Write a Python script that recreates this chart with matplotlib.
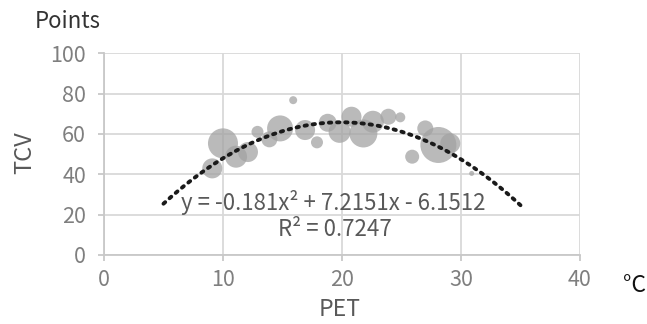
import numpy as np
import matplotlib
matplotlib.use('Agg')
import matplotlib.pyplot as plt

plt.rcParams['font.family'] = ['Noto Sans CJK SC', 'DejaVu Sans']

# PET (°C), TCV (points) and bubble weight
pet = [9.1, 10.0, 11.1, 12.1, 12.9, 13.9, 14.8, 15.9, 16.9, 17.9, 18.8,
       19.8, 20.8, 21.8, 22.6, 23.9, 24.9, 25.9, 27.0, 28.1, 29.1, 30.9]
tcv = [42.9, 55.3, 48.7, 51.0, 61.0, 57.3, 62.7, 76.7, 61.9, 55.8, 65.5,
       61.0, 68.5, 60.2, 66.0, 68.5, 68.2, 48.7, 62.7, 54.5, 55.3, 40.4]
weight = [10, 15, 11, 10, 6, 8, 13, 4, 10, 6, 9,
          11, 10, 14, 11, 8, 5, 7, 8, 18, 10, 2.5]

# trendline shown on the chart
coef = [-0.181, 7.2151, -6.1512]
eq_text = 'y = -0.181x² + 7.2151x - 6.1512'
r2_text = 'R² = 0.7247'

x_ticks = [0, 10, 20, 30, 40]
y_ticks = [0, 20, 40, 60, 80, 100]

fig = plt.figure(figsize=(6.47, 3.24), dpi=100)
ax = fig.add_axes([0.1607, 0.213, 0.7357, 0.623])

px = 0.72  # points per pixel
sizes = [(2 * w * px) ** 2 for w in weight]
ax.scatter(pet, tcv, s=sizes, color='#a3a3a3', alpha=0.75, linewidths=0, zorder=3)

xs = np.linspace(5, 35, 200)
ax.plot(xs, np.polyval(coef, xs), color='#1a1a1a', linestyle=(0, (0.6, 1.5)),
        linewidth=2.8, dash_capstyle='round', zorder=4)

ax.text(19.3, 26.0, eq_text, ha='center', va='center', fontsize=16, color='#595959', zorder=5)
ax.text(19.4, 12.4, r2_text, ha='center', va='center', fontsize=16, color='#595959', zorder=5)

ax.set_xlim(0, 40)
ax.set_ylim(0, 100)
ax.set_xticks(x_ticks)
ax.set_yticks(y_ticks)
ax.grid(True, color='#d9d9d9', linewidth=1.3)
ax.set_axisbelow(True)
for s in ['top', 'right']:
    ax.spines[s].set_visible(False)
for s in ['left', 'bottom']:
    ax.spines[s].set_color('#c8c8c8')
    ax.spines[s].set_linewidth(1.3)
ax.tick_params(axis='both', colors='#c8c8c8', labelcolor='#7f7f7f', labelsize=15.5,
               length=4, width=1.3)
ax.tick_params(axis='x', pad=6)
ax.tick_params(axis='y', pad=9)

fig.text(25 / 647, 1 - 153 / 324, 'TCV', rotation=90, ha='center', va='center',
         fontsize=17, color='#595959')
fig.text(68 / 647, 1 - 21 / 324, 'Points', ha='center', va='center',
         fontsize=16, color='#333333')
fig.text(340 / 647, 1 - 310 / 324, 'PET', ha='center', va='center',
         fontsize=16.5, color='#595959')
fig.text(634 / 647, 1 - 286 / 324, '°C', ha='center', va='center',
         fontsize=16.5, color='#111111')

fig.savefig('out.png', dpi=100)
